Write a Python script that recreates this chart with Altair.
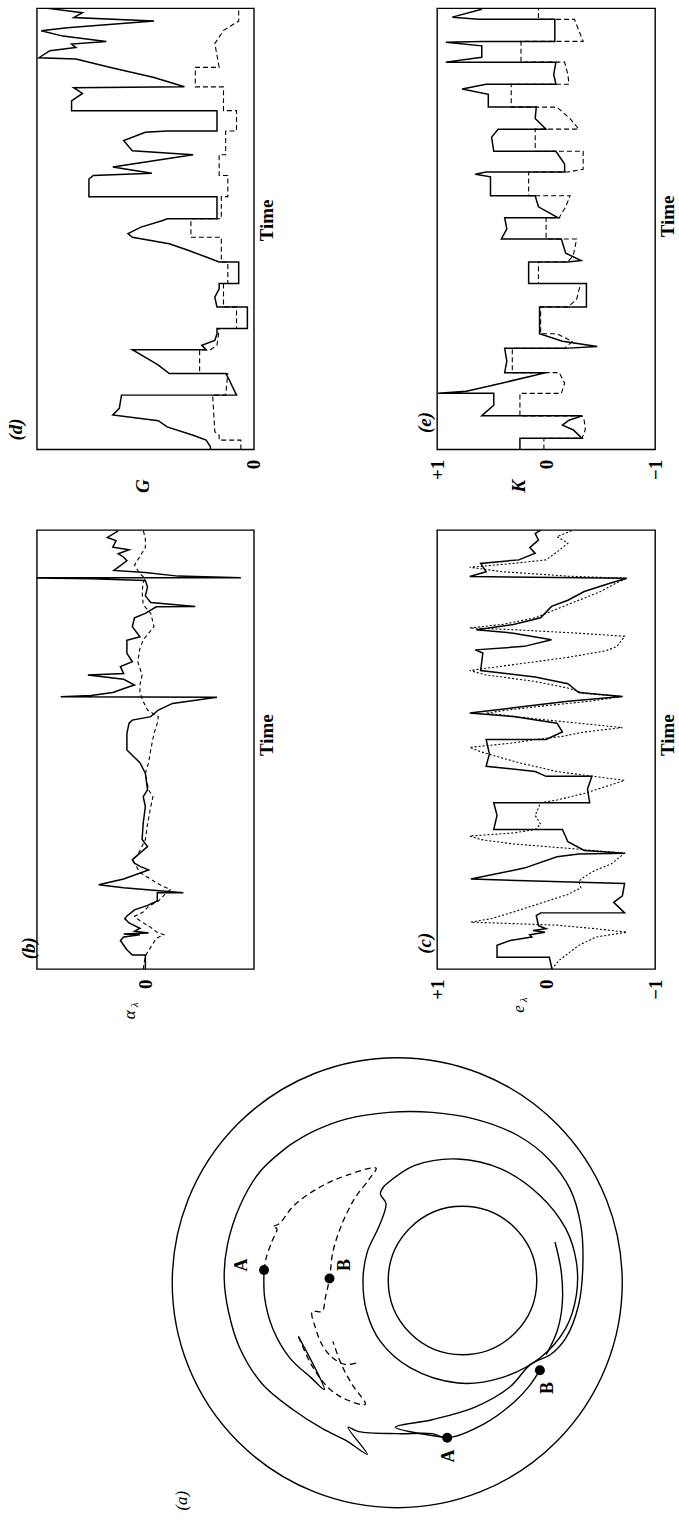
import altair as alt
import pandas as pd

FONT = "Liberation Serif"

# ---------------- data (time 0..100, values in axis units) ----------------
# (d)  G, solid and dashed traces
d_solid = [(0, .20), (0.6, .20), (2.1, .22), (3.2, .28), (5.1, .40), (6.5, .44), (7.8, .65), (9.3, .62),
           (12.3, .61), (12.3, .08), (16.4, .12), (17.2, .13), (17.2, .39), (19.1, .44), (20.6, .49),
           (22.6, .56), (22.6, .22), (23.6, .24), (24.7, .18), (26.2, .17), (27.4, .17), (27.4, .03),
           (32.3, .03), (32.3, .17), (34.5, .18), (36.4, .16), (37.6, .16), (37.6, .07), (42.5, .07),
           (42.5, .16), (43.6, .22), (45.1, .30), (46.6, .39), (48.1, .56), (48.9, .58), (50.4, .52),
           (51.9, .42), (52.3, .40), (52.3, .17), (57.3, .17), (57.3, .76), (61.3, .76), (62.1, .74),
           (62.6, .47), (64, .65), (66.8, .28), (67.7, .56), (70, .60), (71.9, .50), (72.2, .40),
           (72.2, .17), (76.8, .17), (76.8, .84), (79, .84), (80.7, .79), (82, .83), (82.2, .32),
           (84.3, .46), (86.6, .66), (88.5, .82), (88.8, .99), (90.4, .94), (91.1, .82), (91.9, .84),
           (92.5, .68), (93.7, .88), (94.9, .98), (95.6, .86), (97.1, .46), (97.9, .83), (99, .79),
           (100, .95)]
d_dashed = [(0, .06), (2.1, .06), (2.1, .16), (3.2, .16), (4, .18), (12.3, .19), (12.3, .13), (17.2, .12),
            (17.2, .25), (22.6, .25), (22.6, .20), (23.6, .17), (27.4, .16), (27.4, .08), (32.3, .08),
            (32.3, .14), (37.6, .14), (37.6, .12), (42.5, .12), (42.5, .15), (48.1, .15), (48.1, .29),
            (52.3, .29), (52.3, .15), (57.3, .15), (57.3, .12), (62.1, .12), (62.1, .16), (66.8, .16),
            (66.8, .13), (72.2, .13), (72.2, .08), (76.8, .08), (76.8, .14), (82.2, .14), (82.2, .27),
            (86.6, .27), (86.6, .16), (92, .18), (95, .14), (97.1, .07), (100, .07)]

# (e)  K
e_solid = [(0, .24), (2.5, .24), (2.5, -.33), (4.4, -.25), (5.5, -.15), (6.6, -.21), (7.6, -.33),
           (7.6, .59), (8.5, .55), (10, .48), (12.7, .48), (12.7, .99), (13.2, .73), (14.7, .46),
           (16.6, .14), (17.4, .0), (17.4, .38), (20, .36), (22.9, .38), (22.9, -.17), (23.3, -.47),
           (24.5, -.15), (26.2, .06), (32.3, .06), (32.3, -.37), (37.6, -.37), (37.6, .16), (42.5, .16),
           (42.5, -.20), (42.8, -.32), (44.5, -.18), (47.7, -.14), (47.7, .41), (50, .36), (52.5, .38),
           (52.5, -.11), (55, .07), (57.5, .10), (57.5, .51), (61.8, .51), (62.4, .65), (62.9, .55),
           (62.9, -.17), (64.7, -.17), (67.6, -.09), (67.6, .48), (70.8, .50), (72.6, .44), (72.6, .0),
           (75, .10), (77.6, .09), (77.6, .53), (80.5, .53), (81.7, .77), (82.8, .55), (82.8, -.09),
           (85, -.07), (87.8, -.09), (87.8, .92), (88.9, .59), (91.5, .59), (92.3, .92), (92.5, .59),
           (92.5, -.08), (97.5, -.08), (97.5, .62), (98, .86), (99.8, .59)]
e_dashed = [(0, .02), (2.5, .02), (2.5, -.33), (4.5, -.36), (6.5, -.35), (7.6, -.33), (7.6, .24),
            (12.7, .24), (12.7, -.14), (15, -.17), (17.4, -.12), (17.4, .31), (22.9, .31), (22.9, -.17),
            (24.5, -.24), (26.2, -.10), (26.2, .05), (32.3, .05), (32.3, -.20), (34, -.28), (36, -.30),
            (37.6, -.32), (37.6, .07), (42.5, .07), (42.5, -.20), (44, -.25), (47.7, -.28), (47.7, .0),
            (52.5, .0), (52.5, -.12), (55, -.18), (57.5, -.22), (57.5, .16), (62.9, .16), (62.9, -.20),
            (63.5, -.34), (67.6, -.34), (67.6, .10), (72.6, .10), (72.6, -.30), (75, -.22), (77.6, -.10),
            (77.6, .32), (82.8, .32), (82.8, -.21), (85, -.20), (87.8, -.17), (87.8, .23), (92.5, .23),
            (92.5, -.34), (95, -.30), (97.5, -.26), (97.5, .07), (100, .07)]

# (b)  alpha_lambda
b_solid = [(0, .0), (3.2, .0), (3.2, .12), (4.4, .17), (6.5, .23), (7.3, .20), (7.8, .05), (8.0, .20),
           (8.2, -.03), (8.6, .10), (9.3, .05), (10.5, .15), (11.5, .19), (12.1, .17), (13.5, .10),
           (14.5, -.02), (15.5, -.11), (17.4, -.11), (17.4, -.35), (18.5, .20), (19.2, .43), (20.5, .20),
           (22.6, -.03), (23.4, .05), (24.1, .10), (24.9, .12), (26.4, .05), (27.9, -.02), (29.5, .03),
           (33.2, .02), (37, .0), (39.3, .02), (40.8, -.02), (44.6, .0), (47, .05), (49.9, .17),
           (53.7, .17), (56, .15), (56.7, .12), (57.5, -.05), (59, -.12), (60.5, -.25), (61.9, -.66),
           (62, .78), (62.3, .50), (63, .30), (64.3, .15), (64.7, .10), (66, .20), (67, .53), (67.3, .20),
           (68.9, .23), (70, .12), (71.9, .17), (74.9, .17), (75.7, .05), (78, .12), (80, .10), (81, .0),
           (82.5, -.10), (82.6, -.46), (83.5, -.05), (85, .0), (87, -.02), (88.5, .0), (88.9, .50),
           (89.1, 1.1), (89.15, -.88), (89.5, -.30), (90.3, .0), (90.8, .29), (91.9, .23), (93, .17),
           (93.8, .20), (94.6, .25), (95.5, .15), (96.1, .30), (97.6, .27), (98.3, .35), (99.8, .25)]
b_dashed = [(0, .02), (3, .0), (5, -.05), (7, -.10), (7.8, -.17), (8.5, -.10), (9.5, -.05), (11, .05),
            (12, .10), (13, .02), (14.3, -.03), (15.5, -.12), (17, -.18), (18.1, -.23), (19, -.15),
            (20, -.08), (22, .05), (24.9, .12), (26, .07), (29.5, .0), (33, -.02), (37, -.05),
            (39.3, -.07), (40.8, -.03), (44.6, .0), (47, -.03), (50, -.05), (53.7, -.08), (56, -.11),
            (57.5, -.12), (59, -.02), (61, .02), (63, .05), (64.7, .05), (67, .03), (70, .07), (73, .05),
            (75, .02), (78, -.08), (81, -.05), (83, .02), (86, .03), (88, .02), (89, .0), (90, .05),
            (92, .10), (94, .05), (96, .0), (98, .0), (100, .02)]

# (c)  e_lambda
c_solid = [(0, -.05), (0.5, -.05), (2.7, -.03), (2.7, .45), (5.4, .45), (6.5, .33), (7.3, .13), (7.8, .15),
           (8.4, .01), (8.8, .12), (9.2, .0), (9.9, .07), (12.2, .09), (12.8, .05), (12.8, -.72),
           (15.2, -.62), (16.7, -.70), (19.5, -.72), (20.5, .69), (23, .20), (25.6, -.10), (26.2, -.30),
           (26.4, -.72), (27, -.35), (29, -.20), (31.8, -.15), (31.8, .48), (35, .45), (37.9, .48),
           (37.9, -.40), (41, -.38), (43.9, -.42), (43.9, .0), (45, .10), (46.2, .55), (49, .52),
           (52.3, .55), (52.3, .0), (54, -.15), (56, -.10), (57.5, .30), (58.3, .70), (59.5, .30),
           (61, -.20), (62.1, -.70), (63, -.30), (65, -.20), (66.5, .10), (68, .60), (72, .58),
           (72.7, .65), (73.5, .20), (75, -.05), (76.5, .30), (77.3, .64), (78.5, .30), (80, .05),
           (82.6, -.05), (84, -.20), (86, -.35), (88, -.60), (89, -.74), (89.4, .70), (90.5, .55),
           (92.4, .60), (93.2, .25), (94.7, .10), (96, .15), (97.7, .07), (99.2, .10), (100, .05)]
c_dashed = [(0, -.05), (2, -.12), (5.4, -.30), (7.3, -.46), (8.4, -.74), (9.2, -.45), (10, -.10),
            (10.7, .69), (11.5, .50), (13, .30), (15, .05), (17, -.20), (18.5, -.32), (20, -.30),
            (21, -.35), (22.5, -.45), (24, -.60), (26.4, -.72), (27.5, -.20), (28.5, .30), (29.5, .60),
            (30.3, .70), (31, .30), (31.8, .10), (33, .05), (35, .10), (37.9, .05), (38.5, -.10),
            (40, -.35), (42, -.60), (43, -.72), (44, -.40), (45, -.10), (47, .25), (49.5, .60),
            (50.5, .70), (51.5, .30), (52.3, .10), (53, -.15), (54, -.35), (55, -.70), (56, -.30),
            (57, .10), (58.3, .55), (59, .35), (60, .0), (61, -.40), (62.1, -.70), (62.8, -.35),
            (64, -.20), (65.5, .10), (67, .55), (68, .70), (69, .40), (70, .10), (71, -.20), (72.5, -.55),
            (73.5, -.65), (75.8, -.72), (76.5, -.30), (77.3, .30), (77.7, .70), (78.5, .40), (80, .10),
            (82, -.10), (84, -.30), (86, -.50), (88, -.65), (89, -.74), (89.5, -.20), (90.5, .40),
            (91.5, .70), (92.4, .30), (93.2, .0), (95, -.10), (97, -.20), (98.5, -.10), (100, -.25)]

# (a)  annulus (outer radius = 1)
circle_x = [0.0, 0.29]
circle_y = [0.0, 0.01]
circle_r = [1.0, 0.33]

a_solid = {
    "ring_left": [(-0.481, 0.609), (-0.612, 0.491), (-0.698, 0.344), (-0.755, 0.167), (-0.769, 0.019),
                  (-0.750, -0.128), (-0.700, -0.290), (-0.600, -0.450), (-0.458, -0.568), (-0.330, -0.650),
                  (-0.228, -0.701), (-0.133, -0.763), (-0.219, -0.642), (-0.171, -0.662), (0.001, -0.671),
                  (0.155, -0.671), (0.222, -0.689), (0.390, -0.625), (0.520, -0.530), (0.590, -0.455),
                  (0.634, -0.389)],
    "ring_right": [(-0.481, 0.609), (-0.382, 0.668), (-0.228, 0.727),
                   (-0.037, 0.757), (0.155, 0.757), (0.346, 0.727), (0.538, 0.653), (0.672, 0.550),
                   (0.768, 0.417), (0.816, 0.255), (0.825, 0.078), (0.806, -0.099), (0.749, -0.246),
                   (0.680, -0.320), (0.595, -0.361), (0.499, -0.465), (0.346, -0.553), (0.155, -0.609),
                   (-0.008, -0.642), (0.222, -0.689)],
    "ring_inner": [(-0.056, 0.432), (-0.075, 0.395), (-0.050, 0.351), (-0.079, 0.255), (-0.133, 0.137),
                   (-0.152, 0.019), (-0.136, -0.128), (-0.075, -0.261), (0.059, -0.379), (0.270, -0.446),
                   (0.461, -0.423), (0.634, -0.335), (0.749, -0.202), (0.796, -0.055), (0.796, 0.093),
                   (0.749, 0.240), (0.634, 0.388), (0.461, 0.506), (0.270, 0.550), (0.078, 0.521),
                   (-0.056, 0.432)],
    "arc_short": [(0.701, 0.181), (0.729, 0.049), (0.733, -0.099), (0.710, -0.217), (0.662, -0.320)],
    "from_A": [(-0.592, 0.056), (-0.589, -0.069), (-0.554, -0.202), (-0.477, -0.335), (-0.382, -0.423),
               (-0.324, -0.475), (-0.439, -0.239)],
}
a_dashed = {
    "track1": [(-0.592, 0.056), (-0.583, 0.108), (-0.558, 0.181), (-0.535, 0.240), (-0.554, 0.248),
               (-0.525, 0.262), (-0.458, 0.344), (-0.343, 0.425), (-0.228, 0.476), (-0.094, 0.509),
               (-0.123, 0.462), (-0.190, 0.373), (-0.248, 0.255), (-0.286, 0.137), (-0.301, 0.019),
               (-0.320, -0.069), (-0.334, -0.128), (-0.378, -0.128), (-0.363, -0.202), (-0.334, -0.276),
               (-0.286, -0.335), (-0.228, -0.364), (-0.181, -0.357)],
    "track2": [(-0.439, -0.239), (-0.382, -0.364), (-0.305, -0.468), (-0.228, -0.519), (-0.142, -0.541),
               (-0.200, -0.453), (-0.248, -0.364), (-0.286, -0.261)],
}
dot_x = [-0.592, -0.301, 0.222, 0.634]
dot_y = [0.056, 0.019, -0.689, -0.389]
ab_text = ["A", "B", "A", "B"]
ab_x = [-0.688, -0.232, 0.231, 0.668]
ab_y = [0.078, 0.078, -0.770, -0.468]

# ---------------- layout (pixels) ----------------
LEFT, TOP = 36, 4
W1, W2, GAP_X = 218, 219, 184
H1, H2, H3, GAP_Y = 443, 441, 469, 81
PX = 226.0                      # pixels per unit radius in panel (a)
CX_PAGE, CY_PAGE = 398, 1284    # centre of the outer circle on the page
ROW3_TOP = TOP + H1 + GAP_Y + H2 + GAP_Y

ONE = pd.DataFrame({"k": [0]})


def series(pairs):
    return pd.DataFrame({"t": [p[0] for p in pairs], "v": [p[1] for p in pairs],
                         "i": list(range(len(pairs)))})


def label(text, x, y, size=19, weight="bold", style="normal", angle=270):
    return alt.Chart(ONE).mark_text(
        text=text, angle=angle, font=FONT, fontSize=size, fontWeight=weight, fontStyle=style,
        align="center", baseline="middle", color="black"
    ).encode(x=alt.value(x), y=alt.value(y))


def panel(solid, dashed, domain, ticks, w, h, dash, extra):
    xs = alt.Scale(domain=domain, reverse=True, nice=False, zero=False)
    ys = alt.Scale(domain=[0, 100], nice=False, zero=False)
    xax = alt.Axis(values=ticks,
                   labelExpr="datum.value > 0.5 ? '+1' : (datum.value < -0.5 ? '\u22121' : '0')",
                   title=None, ticks=False, domain=False, grid=False, labelAngle=270,
                   labelAlign="right", labelBaseline="middle", labelPadding=10, labelFont=FONT,
                   labelFontSize=19, labelFontWeight="bold", labelColor="black")
    X = alt.X("v:Q", scale=xs, axis=xax)
    Y = alt.Y("t:Q", scale=ys, axis=None)
    l1 = alt.Chart(series(solid)).mark_line(color="black", strokeWidth=1.5, clip=True).encode(
        x=X, y=Y, order="i:Q")
    l2 = alt.Chart(series(dashed)).mark_line(color="black", strokeWidth=1.1, strokeDash=dash,
                                              clip=True).encode(x=X, y=Y, order="i:Q")
    return alt.layer(l1, l2, *extra).properties(
        width=w, height=h, view=alt.ViewBackground(stroke="black", strokeWidth=1.4))


anchor = alt.Chart(ONE).mark_rule(opacity=0).encode(
    x=alt.value(-LEFT), y=alt.value(-TOP), y2=alt.value(-TOP + 0.5))

p_d = panel(d_solid, d_dashed, [0, 1], [0], W1, H1, [5, 3], [
    anchor,
    label("(d)", -21, 423, style="italic"),
    label("Time", 231, 213),
    label("G", 107, 480, style="italic"),
])
p_e = panel(e_solid, e_dashed, [-1, 1], [1, 0, -1], W2, H1, [5, 3], [
    label("(e)", -12, 416, style="italic"),
    label("Time", 232, 209),
    label("K", 82, 480, style="italic"),
])
p_b = panel(b_solid, b_dashed, [-1, 1], [0], W1, H2, [4, 3], [
    label("(b)", -8, 420, style="italic"),
    label("Time", 231, 206),
    label("\u03b1", 94, 487, size=17, weight="normal", style="italic"),
    label("\u03bb", 99, 477, size=11, weight="normal", style="italic"),
])
p_c = panel(c_solid, c_dashed, [-1, 1], [1, 0, -1], W2, H2, [2, 2], [
    label("(c)", -12, 415, style="italic"),
    label("Time", 232, 206),
    label("e", 82, 481, size=17, weight="normal", style="italic"),
    label("\u03bb", 87, 472, size=11, weight="normal", style="italic"),
])

# ---- panel (a) ----
a_xs = alt.Scale(domain=[(LEFT - CX_PAGE) / PX, (LEFT + W1 - CX_PAGE) / PX], nice=False, zero=False)
a_ys = alt.Scale(domain=[(CY_PAGE - (ROW3_TOP + H3)) / PX, (CY_PAGE - ROW3_TOP) / PX], nice=False, zero=False)
AX = alt.X("x:Q", scale=a_xs, axis=None)
AY = alt.Y("y:Q", scale=a_ys, axis=None)

circ_df = pd.DataFrame({"x": circle_x, "y": circle_y, "r": circle_r})
circ_df["sz"] = (2 * circ_df["r"] * PX) ** 2


def paths_df(paths):
    rows = []
    for name, pts in paths.items():
        for i, (x, y) in enumerate(pts):
            rows.append({"p": name, "i": i, "x": x, "y": y})
    return pd.DataFrame(rows)


a_layers = [
    alt.Chart(circ_df).mark_point(shape="circle", filled=False, color="black", strokeWidth=1.4,
                                   opacity=1).encode(x=AX, y=AY, size=alt.Size("sz:Q", scale=None, legend=None)),
    alt.Chart(paths_df(a_solid)).mark_line(color="black", strokeWidth=1.4, interpolate="catmull-rom").encode(
        x=AX, y=AY, detail="p:N", order="i:Q"),
    alt.Chart(paths_df(a_dashed)).mark_line(color="black", strokeWidth=1.3, strokeDash=[6, 4],
                                            interpolate="catmull-rom").encode(
        x=AX, y=AY, detail="p:N", order="i:Q"),
    alt.Chart(pd.DataFrame({"x": dot_x, "y": dot_y})).mark_circle(size=100, color="black", opacity=1).encode(
        x=AX, y=AY),
    alt.Chart(pd.DataFrame({"x": ab_x, "y": ab_y, "s": ab_text})).mark_text(
        angle=270, font=FONT, fontSize=18, fontWeight="bold", color="black", align="center",
        baseline="middle").encode(x=AX, y=AY, text="s:N"),
    alt.Chart(pd.DataFrame({"x": [-0.957], "y": [-0.969], "s": ["(a)"]})).mark_text(
        angle=270, font=FONT, fontSize=17, fontStyle="italic", color="black", align="center",
        baseline="middle").encode(x=AX, y=AY, text="s:N"),
]
p_a = alt.layer(*a_layers).properties(width=W1, height=H3,
                                      view=alt.ViewBackground(strokeOpacity=0))

chart = alt.concat(p_d, p_e, p_b, p_c, p_a, columns=2,
                   spacing={"row": GAP_Y, "column": GAP_X},
                   bounds="flush", align="each").properties(padding=0)
chart = chart.configure_view(strokeWidth=1.4)

chart.save("out.html", embed_options={"renderer": "svg", "actions": False})
